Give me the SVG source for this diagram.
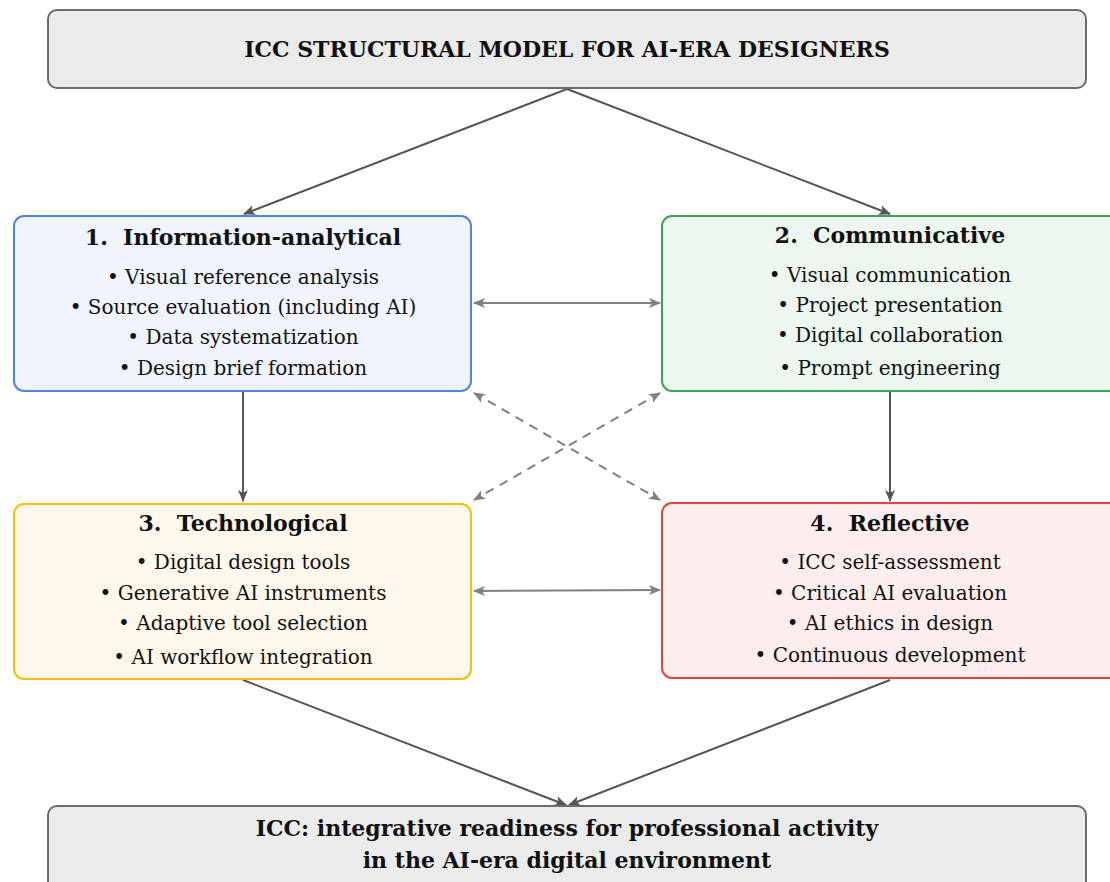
<svg xmlns="http://www.w3.org/2000/svg" width="1110" height="882" viewBox="0 0 1110 882">
  <defs>
    <style>
      .t { font-family: "DejaVu Serif", "Liberation Serif", serif; fill: #111; text-anchor: middle; }
      .head { font-size: 22px; font-weight: bold; white-space: pre; }
      .item { font-size: 20px; }
      .main { font-size: 22px; font-weight: bold; }
      .box { stroke-width: 2; }
      .grey { fill: #ebebeb; stroke: #6b6b6b; }
      .flow { stroke: #555; stroke-width: 2; fill: none; marker-end: url(#ah); }
      .link { stroke: #808080; stroke-width: 2; fill: none; marker-start: url(#ag); marker-end: url(#ag); }
      .dash { stroke-dasharray: 9 7; }
    </style>
    <marker id="ah" viewBox="0 0 12 10" refX="11" refY="5" markerWidth="12" markerHeight="10" markerUnits="userSpaceOnUse" orient="auto-start-reverse">
      <path d="M0,0 L12,5 L0,10 L3,5 Z" fill="#555"/>
    </marker>
    <marker id="ag" viewBox="0 0 12 10" refX="11" refY="5" markerWidth="12" markerHeight="10" markerUnits="userSpaceOnUse" orient="auto-start-reverse">
      <path d="M0,0 L12,5 L0,10 L3,5 Z" fill="#808080"/>
    </marker>
  </defs>

  <!-- connectors -->
  <g id="connectors">
    <line class="flow" x1="567" y1="89" x2="244" y2="214"/>
    <line class="flow" x1="567" y1="89" x2="890" y2="214"/>
    <line class="flow" x1="243" y1="392" x2="243" y2="501"/>
    <line class="flow" x1="890" y1="392" x2="890" y2="501"/>
    <line class="flow" x1="243" y1="680" x2="566" y2="805"/>
    <line class="flow" x1="890" y1="680" x2="569" y2="805"/>
    <line class="link" x1="474" y1="303" x2="660" y2="303"/>
    <line class="link" x1="474" y1="591" x2="660" y2="590"/>
    <line class="link dash" x1="474" y1="393" x2="660" y2="500"/>
    <line class="link dash" x1="660" y1="393" x2="474" y2="500"/>
  </g>

  <g id="top">
    <rect class="box grey" x="48" y="10" width="1038" height="78" rx="9"/>
    <text class="t main" x="567" y="57">ICC STRUCTURAL MODEL FOR AI-ERA DESIGNERS</text>
  </g>

  <g id="info">
    <rect class="box" x="14" y="216" width="457" height="175" rx="10" fill="#eff4fd" stroke="#4a86e8"/>
    <text class="t head" x="243" y="245">1.  Information-analytical</text>
    <text class="t item" x="243" y="284">• Visual reference analysis</text>
    <text class="t item" x="243" y="314">• Source evaluation (including AI)</text>
    <text class="t item" x="243" y="344">• Data systematization</text>
    <text class="t item" x="243" y="375">• Design brief formation</text>
  </g>

  <g id="comm">
    <rect class="box" x="662" y="216" width="457" height="175" rx="10" fill="#eef7ef" stroke="#34a853"/>
    <text class="t head" x="890" y="243">2.  Communicative</text>
    <text class="t item" x="890" y="282">• Visual communication</text>
    <text class="t item" x="890" y="312">• Project presentation</text>
    <text class="t item" x="890" y="342">• Digital collaboration</text>
    <text class="t item" x="890" y="375">• Prompt engineering</text>
  </g>

  <g id="tech">
    <rect class="box" x="14" y="504" width="457" height="175" rx="10" fill="#fef8ec" stroke="#fbbc04"/>
    <text class="t head" x="243" y="531">3.  Technological</text>
    <text class="t item" x="243" y="569">• Digital design tools</text>
    <text class="t item" x="243" y="600">• Generative AI instruments</text>
    <text class="t item" x="243" y="630">• Adaptive tool selection</text>
    <text class="t item" x="243" y="664">• AI workflow integration</text>
  </g>

  <g id="refl">
    <rect class="box" x="662" y="503" width="457" height="175" rx="10" fill="#fdeeee" stroke="#ea4335"/>
    <text class="t head" x="890" y="531">4.  Reflective</text>
    <text class="t item" x="890" y="569">• ICC self-assessment</text>
    <text class="t item" x="890" y="600">• Critical AI evaluation</text>
    <text class="t item" x="890" y="630">• AI ethics in design</text>
    <text class="t item" x="890" y="662">• Continuous development</text>
  </g>

  <g id="result">
    <rect class="box grey" x="48" y="806" width="1038" height="90" rx="9"/>
    <text class="t main" x="567" y="836">ICC: integrative readiness for professional activity</text>
    <text class="t main" x="567" y="868">in the AI-era digital environment</text>
  </g>
</svg>
